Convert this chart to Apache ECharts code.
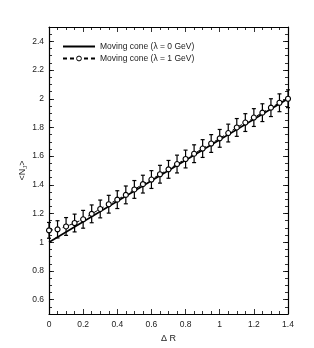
<!DOCTYPE html>
<html>
<head>
<meta charset="utf-8">
<script src="https://cdn.jsdelivr.net/npm/echarts@6/dist/echarts.min.js"></script>
<style>
html,body{margin:0;padding:0;background:#fff;}
#c{width:314px;height:348px;}
</style>
</head>
<body>
<div id="c"></div>
<script>
// ---- data ----
var xValues = [0,0.05,0.1,0.15,0.2,0.25,0.3,0.35,0.4,0.45,0.5,0.55,0.6,0.65,0.7,0.75,0.8,0.85,0.9,0.95,1.0,1.05,1.1,1.15,1.2,1.25,1.3,1.35,1.4];
var dashedValues = [1.083,1.09,1.11,1.134,1.16,1.198,1.232,1.265,1.297,1.33,1.368,1.405,1.437,1.474,1.508,1.545,1.58,1.617,1.653,1.688,1.724,1.761,1.8,1.834,1.869,1.903,1.938,1.972,2.0];
var dashedErrors = [0.055,0.06,0.062,0.062,0.062,0.062,0.062,0.062,0.062,0.062,0.062,0.062,0.062,0.062,0.062,0.062,0.062,0.062,0.062,0.062,0.062,0.062,0.062,0.062,0.062,0.062,0.062,0.062,0.062];
var solidX = [0, 1.4];
var solidY = [1.0, 2.0];
var seriesNames = ['Moving cone (\u03bb = 0 GeV)', 'Moving cone (\u03bb = 1 GeV)'];
var xTickLabels = [0,0.2,0.4,0.6,0.8,1,1.2,1.4];
var yTickLabels = [0.6,0.8,1,1.2,1.4,1.6,1.8,2,2.2,2.4];
var yMinorTicks = [0.55,0.6,0.65,0.7,0.75,0.8,0.85,0.9,0.95,1,1.05,1.1,1.15,1.2,1.25,1.3,1.35,1.4,1.45,1.5,1.55,1.6,1.65,1.7,1.75,1.8,1.85,1.9,1.95,2,2.05,2.1,2.15,2.2,2.25,2.3,2.35,2.4,2.45];

// ---- build ----
var FONT = 'Liberation Sans';
var solidData = solidX.map(function(x,i){return [x, solidY[i]];});
var dashedData = xValues.map(function(x,i){return [x, dashedValues[i]];});
var errData = xValues.map(function(x,i){return [x, dashedValues[i]-dashedErrors[i], dashedValues[i]+dashedErrors[i]];});

var chart = echarts.init(document.getElementById('c'), null, {renderer:'canvas'});

function yAx(pos, custom, len, showLine, showLabel, name){
  var a = {
    type:'value', min:0.5, max:2.5, position:pos,
    splitLine:{show:false},
    axisLine:{show:showLine, onZero:false, lineStyle:{color:'#000', width:1.2}},
    axisTick:{show:true, inside:true, length:len, customValues:custom, lineStyle:{color:'#000', width:0.8}},
    axisLabel:{show:showLabel, customValues:yTickLabels, fontFamily:FONT, fontSize:8.5, color:'#222', margin:5,
      formatter:function(v){return String(Math.round(v*10)/10);}}
  };
  if(name){
    a.name = name; a.nameLocation='middle'; a.nameGap=21; a.nameMoveOverlap=false;
    a.nameTextStyle = {fontFamily:FONT, fontSize:9, color:'#222',
      rich:{a:{fontFamily:FONT,fontSize:9,color:'#222'}, s:{fontFamily:FONT,fontSize:6,color:'#222',padding:[5,0,0,0]}}};
  }
  return a;
}
function xAx(pos, showLabel, name){
  var a = {
    type:'value', min:0, max:1.4, interval:0.2, position:pos,
    splitLine:{show:false},
    axisLine:{show:true, onZero:false, lineStyle:{color:'#000', width:1.2}},
    axisTick:{show:true, inside:true, length:5, lineStyle:{color:'#000', width:0.8}},
    minorTick:{show:true, splitNumber:4, length:3, lineStyle:{color:'#000', width:0.8}},
    axisLabel:{show:showLabel, fontFamily:FONT, fontSize:8.5, color:'#222', margin:6,
      formatter:function(v){return String(Math.round(v*10)/10);}}
  };
  if(name){
    a.name=name; a.nameLocation='middle'; a.nameGap=20; a.nameMoveOverlap=false;
    a.nameTextStyle={fontFamily:FONT, fontSize:9, color:'#222'};
  }
  return a;
}

var option = {
  animation:false,
  backgroundColor:'#fff',
  grid:{left:49, right:26, top:27, bottom:33, containLabel:false},
  legend:{
    data:[
      {name:seriesNames[0], itemStyle:{opacity:0}},
      {name:seriesNames[1], itemStyle:{color:'#fff', borderColor:'#000', borderWidth:1}}
    ],
    orient:'vertical', left:57, top:37,
    itemWidth:32, itemHeight:6, itemGap:3,
    textStyle:{fontFamily:FONT, fontSize:8.5, color:'#222'},
    inactiveColor:'#000'
  },
  xAxis:[ xAx('bottom', true, '\u0394 R'), xAx('top', false) ],
  yAxis:[
    yAx('left', yTickLabels, 5, true, true, '{a|<N}{s|J}{a|>}'),
    yAx('right', yTickLabels, 5, true, false),
    yAx('left', yMinorTicks, 3, false, false),
    yAx('right', yMinorTicks, 3, false, false)
  ],
  series:[
    {
      name:seriesNames[0], type:'line', data:solidData, symbol:'none',
      xAxisIndex:0, yAxisIndex:0, z:3,
      lineStyle:{color:'#000', width:1.6, type:'solid'}, itemStyle:{color:'#000'}
    },
    {
      type:'custom', xAxisIndex:0, yAxisIndex:0, z:4, data:errData,
      renderItem:function(params, api){
        var x = api.value(0);
        var p1 = api.coord([x, api.value(1)]);
        var p2 = api.coord([x, api.value(2)]);
        var st = {stroke:'#000', lineWidth:1.2};
        var cw = 2;
        return {type:'group', children:[
          {type:'line', shape:{x1:p1[0], y1:p1[1], x2:p2[0], y2:p2[1]}, style:st},
          {type:'line', shape:{x1:p1[0]-cw, y1:p1[1], x2:p1[0]+cw, y2:p1[1]}, style:st},
          {type:'line', shape:{x1:p2[0]-cw, y1:p2[1], x2:p2[0]+cw, y2:p2[1]}, style:st}
        ]};
      }
    },
    {
      name:seriesNames[1], type:'line', data:dashedData, symbol:'circle', symbolSize:5,
      xAxisIndex:0, yAxisIndex:0, z:5,
      lineStyle:{color:'#000', width:1, type:[4,3]},
      itemStyle:{color:'#fff', borderColor:'#000', borderWidth:1.1}
    }
  ]
};
chart.setOption(option);
</script>
</body>
</html>
